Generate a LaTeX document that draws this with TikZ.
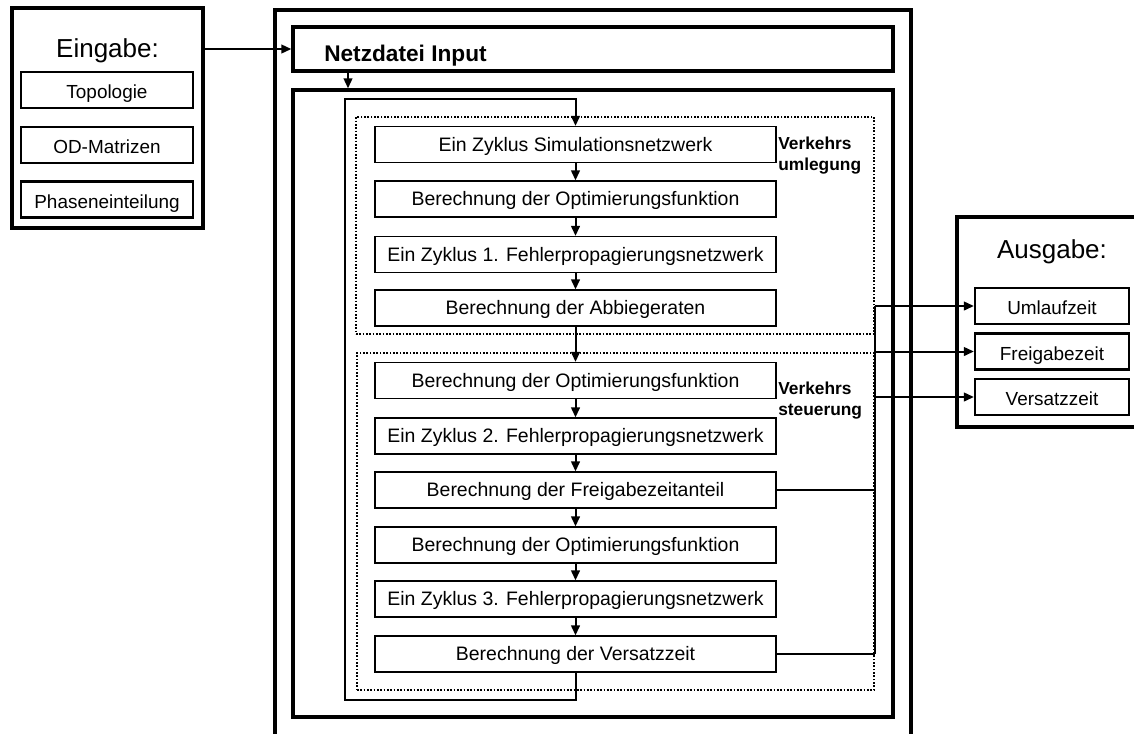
\documentclass[tikz,border=0pt]{standalone}
\usepackage{fontspec}
\setmainfont{Liberation Sans}
\usetikzlibrary{arrows.meta}
\begin{document}
\begin{tikzpicture}[x=0.75pt,y=-0.75pt,
  bigbox/.style={draw, line width=2.5pt, inner sep=0pt},
  stepbox/.style={draw, line width=0.9pt, minimum width=300.75pt, minimum height=27pt, inner sep=0pt, text height=10.45pt, text depth=0pt, font=\fontsize{14.6}{16}\selectfont},
  inbox/.style={draw, line width=1.7pt, minimum width=129pt, minimum height=27pt, inner sep=0pt, text height=12.8pt, text depth=0pt, font=\fontsize{14.2}{16}\selectfont},
  outbox/.style={draw, line width=1.7pt, minimum width=115.5pt, minimum height=27pt, inner sep=0pt, text height=13.3pt, text depth=0pt, font=\fontsize{14.2}{16}\selectfont},
  dotbox/.style={draw, line width=1.5pt, dash pattern=on 1.2pt off 1.3pt, inner sep=0pt},
  arr/.style={line width=1.5pt, -{Triangle[length=7.5pt,width=6.5pt]}},
  conn/.style={line width=1.6pt},
  title/.style={font=\fontsize{19.5}{22}\selectfont, inner sep=0pt, anchor=base},
  lbl/.style={font=\bfseries\fontsize{13}{15.5}\selectfont, align=left, anchor=north west, inner sep=0pt}
]
\useasboundingbox (0,0) rectangle (1134,733);
\clip (0,0) rectangle (1134,733);

% Eingabe
\node[bigbox, minimum width=143.25pt, minimum height=165pt] (eing) at (107.5,118) {};
\node[title] (eingt) at (107.5,57.3) {Eingabe:};
\node[inbox] (topo) at (107,90) {Topologie};
\node[inbox] (odm) at (107,145) {OD-Matrizen};
\node[inbox] (phase) at (107,199.5) {Phaseneinteilung};

% outer frame
\draw[line width=2.5pt] (275,745) -- (275,10) -- (911,10) -- (911,745);

% Netzdatei
\node[bigbox, minimum width=450pt, minimum height=33pt] (netz) at (593,49) {};
\node[font=\bfseries\fontsize{17}{20}\selectfont, anchor=base west, inner sep=0pt] (netzt) at (324,61) {Netzdatei Input};

% inner frame
\node[bigbox, minimum width=450pt, minimum height=470.25pt] (inner) at (593,403.5) {};

% dotted groups
\node[dotbox, minimum width=388.5pt, minimum height=162.75pt] (grpA) at (615,225.5) {};
\node[dotbox, minimum width=387.75pt, minimum height=252.75pt] (grpB) at (615.5,521.5) {};
\node[lbl] (lblA) at (778,137) {Verkehrs\\umlegung};
\node[lbl] (lblB) at (778,381.5) {Verkehrs\\steuerung};

% steps
\node[stepbox] (s1) at (575.5,144.5) {Ein Zyklus Simulationsnetzwerk};
\node[stepbox] (s2) at (575.5,199) {Berechnung der Optimierungsfunktion};
\node[stepbox] (s3) at (575.5,254.5) {Ein Zyklus 1. Fehlerpropagierungsnetzwerk};
\node[stepbox] (s4) at (575.5,308) {Berechnung der Abbiegeraten};
\node[stepbox] (s5) at (575.5,380.5) {Berechnung der Optimierungsfunktion};
\node[stepbox] (s6) at (575.5,436) {Ein Zyklus 2. Fehlerpropagierungsnetzwerk};
\node[stepbox] (s7) at (575.5,490) {Berechnung der Freigabezeitanteil};
\node[stepbox] (s8) at (575.5,545) {Berechnung der Optimierungsfunktion};
\node[stepbox] (s9) at (575.5,599) {Ein Zyklus 3. Fehlerpropagierungsnetzwerk};
\node[stepbox] (s10) at (575.5,654) {Berechnung der Versatzzeit};

% Ausgabe
\node[bigbox, minimum width=152.25pt, minimum height=157.5pt] (ausg) at (1058.5,322) {};
\node[title] (ausgt) at (1052,258) {Ausgabe:};
\node[outbox] (o1) at (1052,306) {Umlaufzeit};
\node[outbox] (o2) at (1052,351.5) {Freigabezeit};
\node[outbox] (o3) at (1052,397) {Versatzzeit};

% connectors
\coordinate (cx) at (348,0);
\coordinate (loopL) at (345,700);
\coordinate (loopT) at (345,99);
\coordinate (colx) at (875,0);

\draw[arr] (eing.east |- netz.west) -- (netz.west);
\draw[arr] (netz.south -| cx) -- (inner.north -| cx);
\draw[arr] (s10.south) -- (s10.south |- loopL) -- (loopL) -- (loopT) -- (loopT -| s1.north) -- (s1.north);
\foreach \a/\b in {s1/s2,s2/s3,s3/s4,s4/s5,s5/s6,s6/s7,s7/s8,s8/s9,s9/s10}
  \draw[arr] (\a.south) -- (\b.north);

\draw[conn] (s7.east) -- (s7.east -| colx);
\draw[conn] (s10.east) -- (s10.east -| colx);
\draw[line width=1.1pt] (o1.west -| colx) -- (s10.east -| colx);
\draw[arr] (o1.west -| colx) -- (o1.west);
\draw[arr] (o2.west -| colx) -- (o2.west);
\draw[arr] (o3.west -| colx) -- (o3.west);
\end{tikzpicture}
\end{document}
